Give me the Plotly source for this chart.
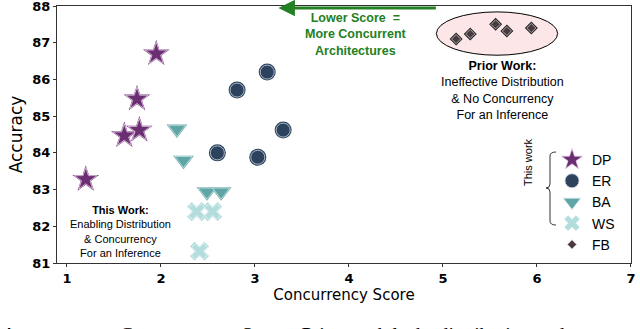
import plotly.graph_objects as go

# data
dp_x = [1.95, 1.745, 1.61, 1.77, 1.20]
dp_y = [86.7, 85.47, 84.47, 84.62, 83.28]

er_x = [2.81, 3.13, 3.30, 2.60, 3.03]
er_y = [85.71, 86.2, 84.62, 84.0, 83.88]

ba_x = [2.17, 2.24, 2.49, 2.64]
ba_y = [84.65, 83.8, 82.94, 82.94]

ws_x = [2.38, 2.55, 2.41]
ws_y = [82.4, 82.4, 81.32]

fb_x = [5.14, 5.29, 5.56, 5.68, 5.94]
fb_y = [87.1, 87.24, 87.5, 87.32, 87.4]

x_ticks = [1, 2, 3, 4, 5, 6, 7]
y_ticks = [81, 82, 83, 84, 85, 86, 87, 88]

W, H = 640, 329
ML, MR, MT, MB = 57, 9, 6, 66


def px2paper(px, py):
    # pixel -> paper coords, for the decorations only
    return (px - ML) / (W - ML - MR), (H - MB - py) / (H - MT - MB)


fig = go.Figure()


def add_series(x, y, name, symbol, color, size, outer, edge="white"):
    # outer rim layer, then the marker with a thin light inner line
    fig.add_trace(go.Scatter(
        x=x, y=y, mode="markers", showlegend=False, hoverinfo="skip",
        marker=dict(symbol=symbol, size=size + 3, color=outer, line=dict(width=0))))
    fig.add_trace(go.Scatter(
        x=x, y=y, mode="markers", name=name,
        marker=dict(symbol=symbol, size=size, color=color, line=dict(width=0.8, color=edge))))


# prior work ellipse
fig.add_shape(type="circle", xref="x", yref="y", x0=4.93, x1=6.22, y0=86.66, y1=87.84,
              fillcolor="#fde6e8", line=dict(color="black", width=1), layer="below")

add_series(dp_x, dp_y, "DP", "star", "#6c2e73", 17, "#6c2e73", "#e6cfe6")
add_series(er_x, er_y, "ER", "circle", "#2d435d", 14, "#2d435d", "#c8d2dc")
add_series(ba_x, ba_y, "BA", "triangle-down", "#5fa5a5", 15, "#5fa5a5", "#cfe6e6")
add_series(ws_x, ws_y, "WS", "x", "#b3dcdc", 14, "#b3dcdc", "#eef8f8")
add_series(fb_x, fb_y, "FB", "diamond", "#4a3a3f", 7, "#222222", "#cccccc")

tick_font = dict(family="DejaVu Sans", size=13, color="black", weight="bold")
fig.update_xaxes(range=[0.894, 7.0005], tickvals=x_ticks, tickfont=tick_font, automargin=False,
                 ticklabeloverflow="allow",
                 showline=True, linecolor="#333", linewidth=1, mirror=True,
                 ticks="outside", ticklen=3, tickcolor="#333", showgrid=False, zeroline=False,
                 title=dict(text="Concurrency Score", font=dict(family="DejaVu Sans", size=15, color="black"),
                            standoff=3))
fig.update_yaxes(range=[81, 88.0005], tickvals=y_ticks, tickfont=tick_font, automargin=False,
                 ticklabeloverflow="allow",
                 showline=True, linecolor="#333", linewidth=1, mirror=True,
                 ticks="outside", ticklen=3, tickcolor="#333", showgrid=False, zeroline=False,
                 title=dict(text="Accuracy", font=dict(family="DejaVu Sans", size=17, color="black"),
                            standoff=5))

green = "#238023"
# arrow: lower score = more concurrent
fig.add_annotation(x=3.25, y=87.945, ax=4.94, ay=87.945, xref="x", yref="y", axref="x", ayref="y",
                   text="", showarrow=True, arrowhead=2, arrowsize=1.1, arrowwidth=3, arrowcolor=green)
fig.add_annotation(x=4.07, y=87.22, xref="x", yref="y", showarrow=False,
                   text="<b>Lower Score  =<br>More Concurrent<br>Architectures</b>",
                   font=dict(family="Liberation Sans", size=12.5, color=green))

fig.add_annotation(x=5.63, y=85.70, xref="x", yref="y", showarrow=False,
                   text="<b>Prior Work:</b><br>Ineffective Distribution<br>& No Concurrency<br>For an Inference",
                   font=dict(family="Liberation Sans", size=12.5, color="black"))

fig.add_annotation(x=1.574, y=81.86, xref="x", yref="y", showarrow=False,
                   text="<b>This Work:</b><br>Enabling Distribution<br>& Concurrency<br>For an Inference",
                   font=dict(family="Liberation Sans", size=11, color="black"))

# brace for "This work" in the legend
pts = [(556, 152), (550, 156), (550, 184), (546, 188), (550, 192), (550, 221), (556, 225)]
pp = [px2paper(a, b) for a, b in pts]
path = "M {0[0]},{0[1]} Q {1[0]},{0[1]} {1[0]},{1[1]} L {2[0]},{2[1]} Q {2[0]},{3[1]} {3[0]},{3[1]} " \
       "Q {4[0]},{3[1]} {4[0]},{4[1]} L {5[0]},{5[1]} Q {5[0]},{6[1]} {6[0]},{6[1]}".format(*pp)
fig.add_shape(type="path", xref="paper", yref="paper", path=path, line=dict(color="#333", width=1))
tx, ty = px2paper(536, 188)
fig.add_annotation(x=tx, y=ty, xref="paper", yref="paper", text="This work", textangle=-90,
                   showarrow=False, font=dict(family="Liberation Sans", size=11, color="black"))

# caption of the paper, cut at the bottom of the picture
sc = "<span style='font-size:15px'>"
fig.add_annotation(x=-0.1, y=-0.231, xref="paper", yref="paper", xanchor="left", yanchor="top",
                   showarrow=False, align="left",
                   text="A" + sc + "CCURACY VS.</span> C" + sc + "ONCURRENCY</span> S" + sc + "CORE.</span> "
                        "Prior work lacks distribution and concurrency",
                   font=dict(family="Liberation Serif", size=20, color="black"))

lx, ly = px2paper(552, 144)
fig.update_layout(
    width=W, height=H,
    margin=dict(l=ML, r=MR, t=MT, b=MB),
    plot_bgcolor="white", paper_bgcolor="white",
    legend=dict(x=lx, y=ly, xanchor="left", yanchor="top", bgcolor="rgba(0,0,0,0)",
                font=dict(family="Liberation Sans", size=14, color="black")),
)

# page body has a default 8px margin; drop it so the figure sits at the corner
fig.write_html("out.html", config={"displayModeBar": False},
               post_script="document.body.style.margin='0';")
